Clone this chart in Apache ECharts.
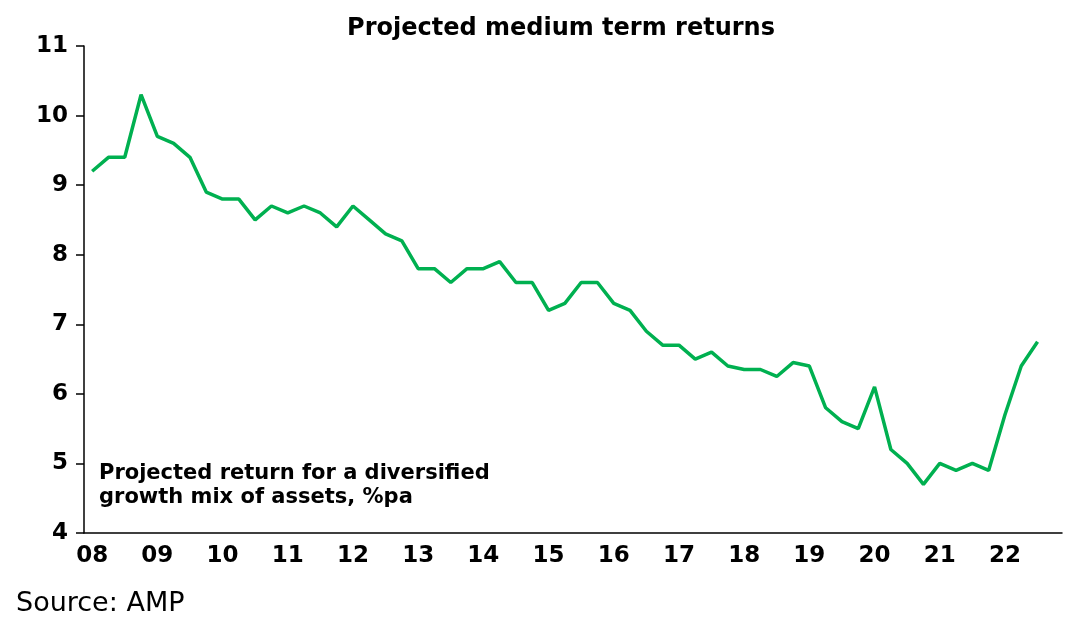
<!DOCTYPE html>
<html>
<head>
<meta charset="utf-8">
<script src="https://cdn.jsdelivr.net/npm/echarts@6/dist/echarts.min.js"></script>
<style>html,body{margin:0;padding:0;background:#fff}#c{width:1089px;height:640px}</style>
</head>
<body>
<div id="c"></div>
<script>
// quarterly projected returns, Q1 2008 .. Q3 2022
var years = ['08','09','10','11','12','13','14','15','16','17','18','19','20','21','22'];
var returns = [9.2, 9.4, 9.4, 10.3, 9.7, 9.6, 9.4, 8.9, 8.8, 8.8, 8.5, 8.7, 8.6, 8.7, 8.6, 8.4,
    8.7, 8.5, 8.3, 8.2, 7.8, 7.8, 7.6, 7.8, 7.8, 7.9, 7.6, 7.6, 7.2, 7.3, 7.6, 7.6,
    7.3, 7.2, 6.9, 6.7, 6.7, 6.5, 6.6, 6.4, 6.35, 6.35, 6.25, 6.45, 6.4, 5.8, 5.6, 5.5,
    6.1, 5.2, 5.0, 4.7, 5.0, 4.9, 5.0, 4.9, 5.7, 6.4, 6.75];

var cats = [];
for (var i = 0; i < 60; i++) {
    cats.push(i % 4 === 0 ? years[i / 4] : '');
}

var chart = echarts.init(document.getElementById('c'));
chart.setOption({
    animation: false,
    title: {
        text: 'Projected medium term returns',
        left: 556, top: 12, textAlign: 'center',
        textStyle: {fontFamily: 'DejaVu Sans', fontSize: 24, fontWeight: 'bold', color: '#000'}
    },
    grid: {left: 84, right: 27, top: 46, bottom: 107},
    xAxis: {
        type: 'category',
        data: cats,
        boundaryGap: true,
        axisLine: {lineStyle: {color: '#000', width: 1.5}},
        axisTick: {interval: 3, length: 8, lineStyle: {color: '#000', width: 1.5}},
        axisLabel: {interval: 3, color: '#000', fontFamily: 'DejaVu Sans', fontSize: 23, fontWeight: 'bold', margin: 12}
    },
    yAxis: {
        type: 'value', min: 4, max: 11, interval: 1,
        splitLine: {show: false},
        axisLine: {show: true, lineStyle: {color: '#000', width: 1.5}},
        axisTick: {show: true, inside: false, length: 8, lineStyle: {color: '#000', width: 1.5}},
        axisLabel: {color: '#000', fontFamily: 'DejaVu Sans', fontSize: 23, fontWeight: 'bold', margin: 16}
    },
    series: [{
        type: 'line',
        data: returns,
        symbol: 'none',
        lineStyle: {color: '#00B050', width: 3.5}
    }],
    graphic: [
        {type: 'text', left: 99, top: 462,
            style: {text: 'Projected return for a diversified\ngrowth mix of assets, %pa', fill: '#000',
                font: 'bold 21px "DejaVu Sans"', lineHeight: 24}},
        {type: 'text', left: 16, top: 590,
            style: {text: 'Source: AMP', fill: '#000', font: '27px "DejaVu Sans"'}}
    ]
});
</script>
</body>
</html>
